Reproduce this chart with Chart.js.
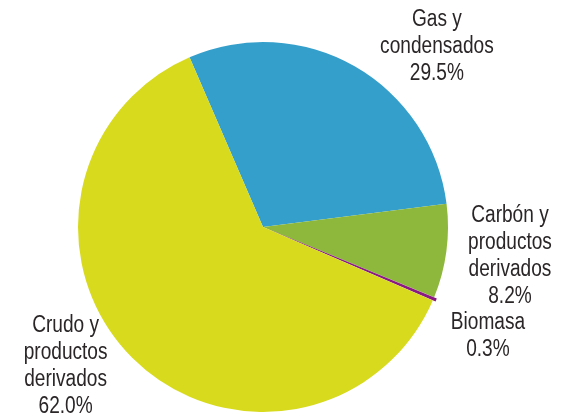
<!DOCTYPE html>
<html lang="es">
<head>
    <meta charset="UTF-8">
    <title>Consumo de energía por fuente</title>
    <style>
        body {
            background-color: #ffffff;
            margin: 0;
            padding: 0;
        }

        #wrap {
            width: 561px;
            height: 419px;
            position: relative;
        }
    </style>
</head>
<body>
    <div id="wrap">
        <canvas id="energyChart" width="561" height="419"></canvas>
    </div>

    <script src="https://cdn.jsdelivr.net/npm/chart.js"></script>
    <script>
        const fuentes = ['Gas y condensados', 'Carbón y productos derivados', 'Biomasa', 'Crudo y productos derivados'];
        const porcentajes = [29.5, 8.2, 0.3, 62.0];
        const colores = ['#359fcb', '#8db83b', '#8a1a7f', '#d7da1d'];

        // label lines for each slice, the value line is appended below
        const etiquetas = [
            ['Gas y', 'condensados'],
            ['Carbón y', 'productos', 'derivados'],
            ['Biomasa'],
            ['Crudo y', 'productos', 'derivados']
        ];

        // centre of each label block relative to the pie centre (in radii)
        const anclas = [
            { dx: 0.94, dy: -0.975 },
            { dx: 1.335, dy: 0.158 },
            { dx: 1.216, dy: 0.592 },
            { dx: -1.067, dy: 0.75 }
        ];

        const fontFamily = "'Liberation Sans', Arial, sans-serif";
        const squeeze = 0.83; // narrow the type horizontally

        const labelPlugin = {
            id: 'sliceLabels',
            afterDatasetsDraw(chart) {
                const ctx = chart.ctx;
                const arc = chart.getDatasetMeta(0).data[0];
                const cx = arc.x, cy = arc.y, r = arc.outerRadius;
                ctx.save();
                ctx.fillStyle = '#2a2627';
                ctx.font = '23px ' + fontFamily;
                ctx.textAlign = 'center';
                ctx.textBaseline = 'middle';
                const lineH = 27;
                etiquetas.forEach((lines, i) => {
                    const all = lines.concat([porcentajes[i].toFixed(1) + '%']);
                    const x = cx + anclas[i].dx * r;
                    const top = cy + anclas[i].dy * r - (all.length - 1) * lineH / 2;
                    all.forEach((t, k) => {
                        ctx.save();
                        ctx.translate(x, top + k * lineH);
                        ctx.scale(squeeze, 1);
                        ctx.fillText(t, 0, 0);
                        ctx.restore();
                    });
                });
                ctx.restore();
            }
        };

        new Chart(document.getElementById('energyChart'), {
            type: 'pie',
            data: {
                labels: fuentes,
                datasets: [{
                    data: porcentajes,
                    backgroundColor: colores,
                    borderWidth: 0,
                    offset: [0, 0, 6, 0]
                }]
            },
            options: {
                responsive: false,
                animation: false,
                rotation: -23.4,
                layout: {
                    padding: { left: 75, right: 110, top: 39, bottom: 4 }
                },
                plugins: {
                    legend: { display: false },
                    tooltip: { enabled: false }
                }
            },
            plugins: [labelPlugin]
        });
    </script>
</body>
</html>
